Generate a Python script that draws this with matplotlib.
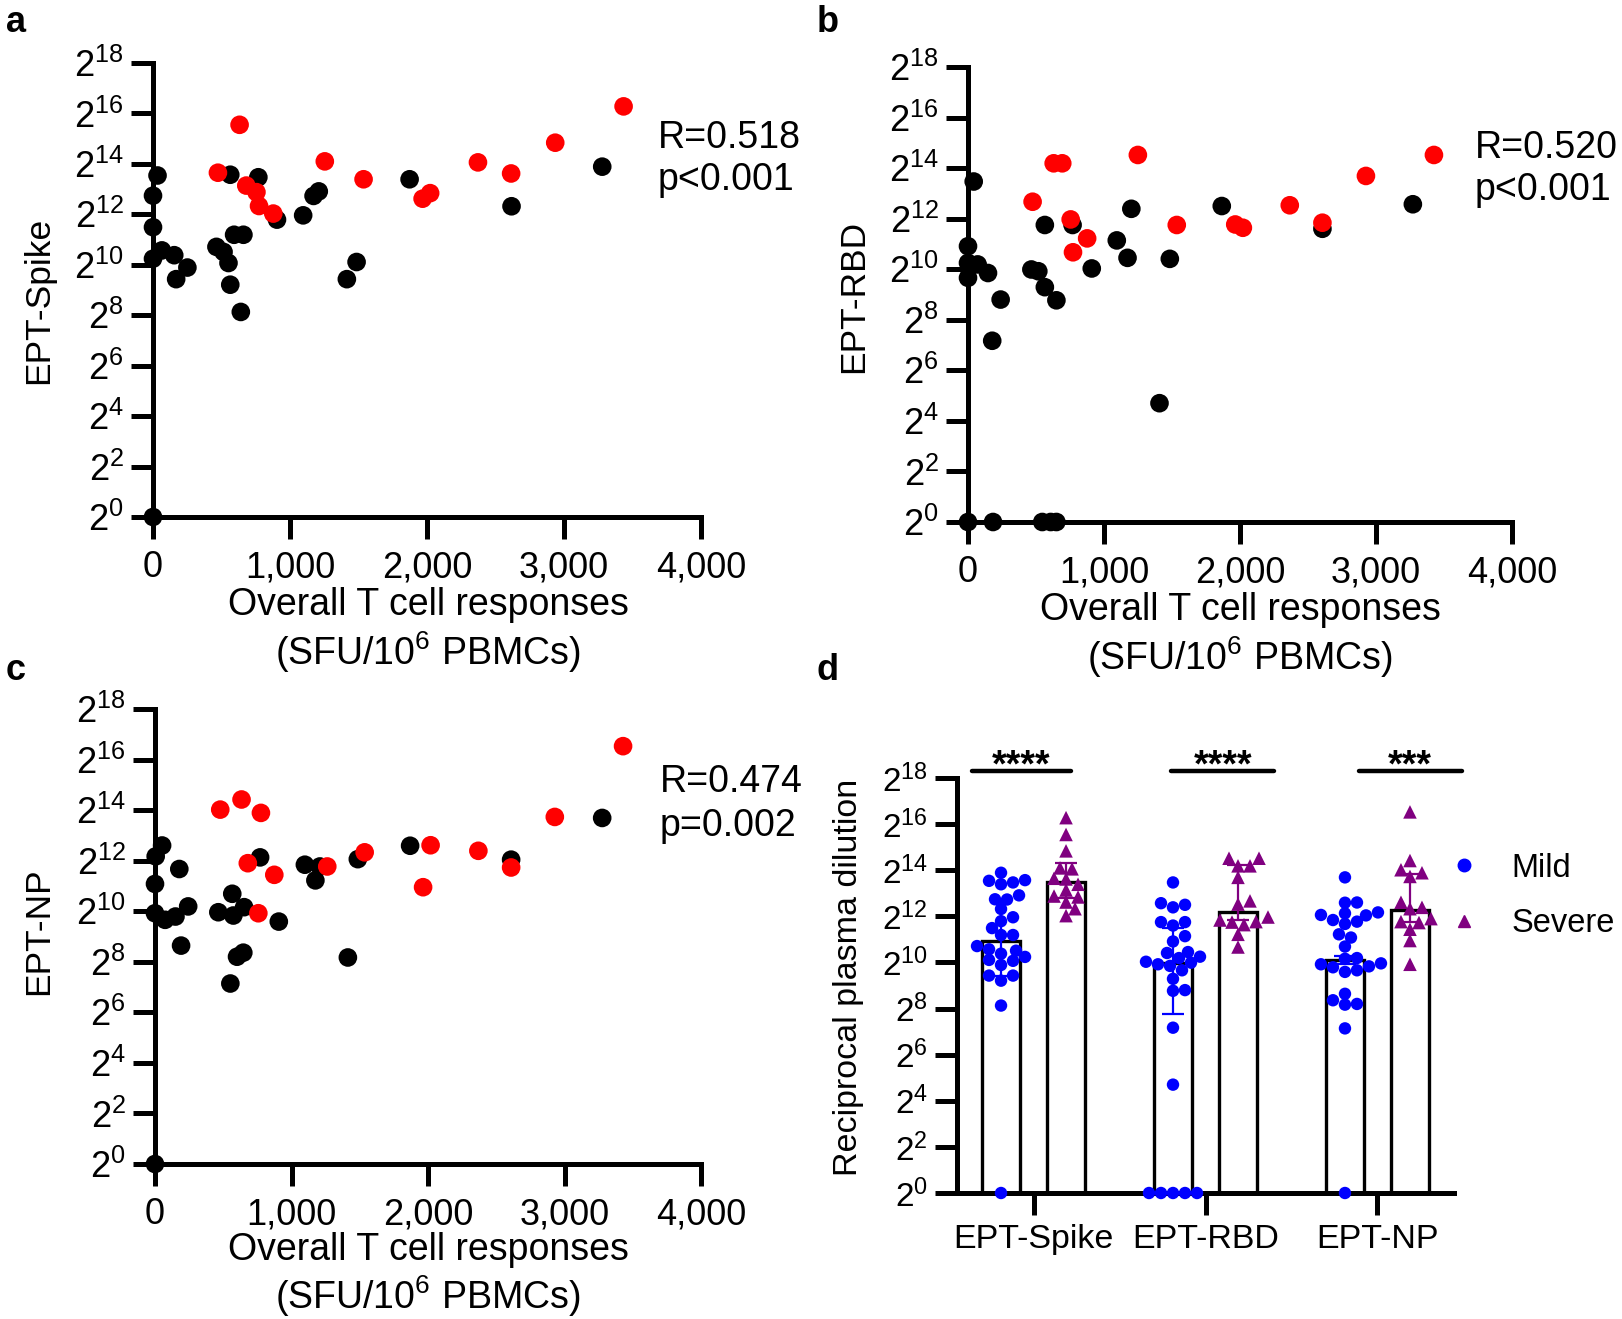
import numpy as np
import matplotlib
matplotlib.use('Agg')
import matplotlib.pyplot as plt
from matplotlib.lines import Line2D
from matplotlib.ticker import FuncFormatter

plt.rcParams['font.family'] = ['Liberation Sans', 'DejaVu Sans']
plt.rcParams['mathtext.fontset'] = 'custom'
plt.rcParams['mathtext.rm'] = 'Liberation Sans'

# ---- data (y values are log2 of the endpoint titre) ----
spike_mild_x = [3279, 33, 564, 769, 1873, 0, 1210, 1172, 2617, 905, 1096, 0, 592, 660,
                463, 515, 551, 564, 641, 65, 155, 0, 169, 251, 1486, 1415, 0]
spike_mild_y = [13.89, 13.54, 13.57, 13.47, 13.39, 12.74, 12.91, 12.73, 12.32, 11.79, 11.96,
                11.49, 11.19, 11.19, 10.71, 10.51, 10.07, 9.21, 8.13, 10.57, 10.38, 10.24,
                9.43, 9.89, 10.11, 9.43, 0]
spike_severe_x = [3435, 632, 2936, 1254, 2372, 474, 2614, 1537, 681, 755, 2023, 1968, 774, 878]
spike_severe_y = [16.28, 15.55, 14.84, 14.10, 14.06, 13.65, 13.62, 13.39, 13.14, 12.88,
                  12.84, 12.62, 12.33, 12.03]

rbd_mild_x = [42, 3271, 1201, 1866, 565, 769, 2606, 1094, 1173, 1484, 0, 0, 71, 147, 0,
              466, 517, 910, 565, 650, 240, 178, 1408, 0, 184, 546, 608, 650]
rbd_mild_y = [13.47, 12.57, 12.39, 12.50, 11.75, 11.75, 11.60, 11.14, 10.45, 10.41, 10.91,
              10.25, 10.19, 9.85, 9.66, 9.99, 9.92, 10.03, 9.29, 8.77, 8.80, 7.17, 4.70,
              0, 0, 0, 0, 0]
rbd_severe_x = [3426, 1249, 630, 693, 2926, 475, 2366, 755, 1535, 1965, 2021, 2606, 876, 772]
rbd_severe_y = [14.52, 14.52, 14.19, 14.19, 13.69, 12.67, 12.53, 11.97, 11.75, 11.77,
                11.64, 11.84, 11.22, 10.67]

np_mild_x = [3276, 1869, 770, 1486, 2609, 52, 5, 1098, 1208, 1175, 178, 0, 566, 243, 0,
             74, 150, 464, 574, 653, 907, 191, 601, 647, 1413, 552, 0]
np_mild_y = [13.69, 12.59, 12.13, 12.06, 12.04, 12.60, 12.17, 11.84, 11.77, 11.22, 11.67,
             11.08, 10.69, 10.19, 9.92, 9.66, 9.79, 9.96, 9.83, 10.16, 9.59, 8.64, 8.20,
             8.36, 8.17, 7.14, 0]
np_severe_x = [3429, 634, 478, 776, 2929, 2019, 2369, 1536, 1262, 680, 2609, 874, 1964, 757]
np_severe_y = [16.53, 14.42, 14.02, 13.89, 13.73, 12.61, 12.39, 12.33, 11.77, 11.90,
               11.73, 11.44, 10.95, 9.92]

corr_text = ['R=0.518\np<0.001', 'R=0.520\np<0.001', 'R=0.474\np=0.002']
panel_ylabels = ['EPT-Spike', 'EPT-RBD', 'EPT-NP']

groups = ['EPT-Spike', 'EPT-RBD', 'EPT-NP']
bar_mild = [10.93, 9.97, 10.12]
bar_severe = [13.49, 12.18, 12.26]
err_mild_low = [9.4, 7.77, 9.95]
err_mild_high = [12.73, 11.50, 10.3]
err_severe_low = [12.79, 11.82, 11.75]
err_severe_high = [14.33, 14.21, 13.85]
sig_labels = ['****', '****', '***']

W, H = 1622, 1319
fig = plt.figure(figsize=(W / 100, H / 100), dpi=100)


def rect(l, t, r, b):
    return [l / W, 1 - b / H, (r - l) / W, (b - t) / H]


def pow2(v, pos):
    return r'$\mathregular{2^{%d}}$' % int(round(v))


def style_axis(ax, fs):
    for s in ['top', 'right']:
        ax.spines[s].set_visible(False)
    for s in ['left', 'bottom']:
        ax.spines[s].set_linewidth(3.6)
    ax.tick_params(width=3.6, length=16, labelsize=fs, direction='out')
    ax.tick_params(axis='y', pad=5)
    ax.tick_params(axis='x', pad=8)
    ax.set_ylim(0, 18)
    ax.set_yticks(np.arange(0, 19, 2))
    ax.yaxis.set_major_formatter(FuncFormatter(pow2))


# ---- scatter panels a, b, c ----
scatter_sets = [
    (spike_mild_x, spike_mild_y, spike_severe_x, spike_severe_y),
    (rbd_mild_x, rbd_mild_y, rbd_severe_x, rbd_severe_y),
    (np_mild_x, np_mild_y, np_severe_x, np_severe_y),
]
rects = [rect(153, 63, 701, 517), rect(968, 67, 1512, 522), rect(155, 709, 701, 1164)]
xlab_pos = [(428, 605, 652), (1240, 610, 657), (428, 1250, 1296)]
ylab_pos = [(39, 300), (854, 296), (39, 931)]
txt_pos = [(658, 159), (1475, 169), (660, 804)]

for i, (mx, my, sx, sy) in enumerate(scatter_sets):
    ax = fig.add_axes(rects[i])
    style_axis(ax, 26)
    ax.set_xlim(0, 4000)
    ax.set_xticks([0, 1000, 2000, 3000, 4000])
    ax.xaxis.set_major_formatter(FuncFormatter(lambda v, p: f'{int(v):,}'))
    ax.scatter(mx, my, s=180, color='black', edgecolors='none', clip_on=False, zorder=3)
    ax.scatter(sx, sy, s=180, color='#ff0000', edgecolors='none', clip_on=False, zorder=4)
    px, py1, py2 = xlab_pos[i]
    fig.text(px / W, 1 - py1 / H, 'Overall T cell responses', fontsize=27,
             ha='center', va='center')
    fig.text(px / W, 1 - py2 / H, r'(SFU/10$^{\mathregular{6}}$ PBMCs)', fontsize=27,
             ha='center', va='center')
    lx, ly = ylab_pos[i]
    fig.text(lx / W, 1 - ly / H, panel_ylabels[i], fontsize=25.5, rotation=90,
             ha='center', va='center')
    tx, ty = txt_pos[i]
    fig.text(tx / W, 1 - ty / H, corr_text[i], fontsize=27, ha='left', va='center',
             linespacing=1.25)

# ---- panel d: bars with individual points ----
axd = fig.add_axes(rect(957, 778, 1454, 1193))
style_axis(axd, 24)
axd.set_xlim(-0.445, 2.445)
pos = np.arange(len(groups))
off = 0.189
axd.set_xticks(pos)
axd.set_xticklabels(groups)
axd.tick_params(axis='x', pad=6, labelsize=24.5)

axd.bar(pos - off, bar_mild, width=0.225, color='white', edgecolor='black',
        linewidth=2.4, zorder=2)
axd.bar(pos + off, bar_severe, width=0.225, color='white', edgecolor='black',
        linewidth=2.4, zorder=2)

bm = np.array(bar_mild)
bs = np.array(bar_severe)
axd.errorbar(pos - off, bm, yerr=[bm - np.array(err_mild_low), np.array(err_mild_high) - bm],
             fmt='none', ecolor='#0000ff', elinewidth=1.6, capsize=8, capthick=1.6, zorder=3)
axd.errorbar(pos + off, bs, yerr=[bs - np.array(err_severe_low), np.array(err_severe_high) - bs],
             fmt='none', ecolor='#800080', elinewidth=1.6, capsize=8, capthick=1.6, zorder=3)

# simple swarm layout computed in pixel space
px_per_x = 497 / 2.89
px_per_y = 415 / 18.0


def swarm(vals, diam=10.5, step=3.0):
    order = np.argsort(vals)
    placed = []
    offs = np.zeros(len(vals))
    for k in order:
        v = vals[k] * px_per_y
        cands = [0.0]
        for j in range(1, 40):
            cands += [j * step, -j * step]
        for c in cands:
            ok = True
            for (ox, oy) in placed:
                if (c - ox) ** 2 + (v - oy) ** 2 < diam ** 2:
                    ok = False
                    break
            if ok:
                break
        placed.append((c, v))
        offs[k] = c / px_per_x
    return offs


mild_sets = [spike_mild_y, rbd_mild_y, np_mild_y]
severe_sets = [spike_severe_y, rbd_severe_y, np_severe_y]
for g in range(3):
    my = np.array(mild_sets[g])
    sy = np.array(severe_sets[g])
    axd.scatter(g - off + swarm(my), my, s=80, marker='o', color='#0000ff',
                edgecolors='none', clip_on=False, zorder=4)
    axd.scatter(g + off + swarm(sy, diam=11), sy, s=95, marker='^', color='#800080',
                edgecolors='none', clip_on=False, zorder=4)

# significance bars
sig_spans = [(-0.36, 0.22), (0.80, 1.40), (1.89, 2.49)]
for (x0, x1), lab in zip(sig_spans, sig_labels):
    axd.plot([x0, x1], [18.3, 18.3], color='black', lw=3.2, clip_on=False,
             solid_capstyle='round')
    axd.text((x0 + x1) / 2, 17.7, lab, fontsize=27, fontweight='bold', ha='center',
             va='bottom')

fig.text(848 / W, 1 - 977 / H, 'Reciprocal plasma dilution', fontsize=24.5, rotation=90,
         ha='center', va='center')

handles = [Line2D([], [], marker='o', ls='none', color='#0000ff', markersize=9),
           Line2D([], [], marker='^', ls='none', color='#800080', markersize=9)]
fig.legend(handles, ['Mild', 'Severe'], loc='center left', frameon=False, fontsize=23.5,
           bbox_to_anchor=(1444 / W, 1 - 896 / H), handletextpad=0.86, labelspacing=0.75,
           handlelength=1.2, borderaxespad=0, borderpad=0)

# panel letters
for lab, x, y in [('a', 16, 23), ('b', 828, 23), ('c', 16, 670), ('d', 828, 670)]:
    fig.text(x / W, 1 - y / H, lab, fontsize=26, fontweight='bold', ha='center',
             va='center')

fig.savefig('out.png', dpi=100)
